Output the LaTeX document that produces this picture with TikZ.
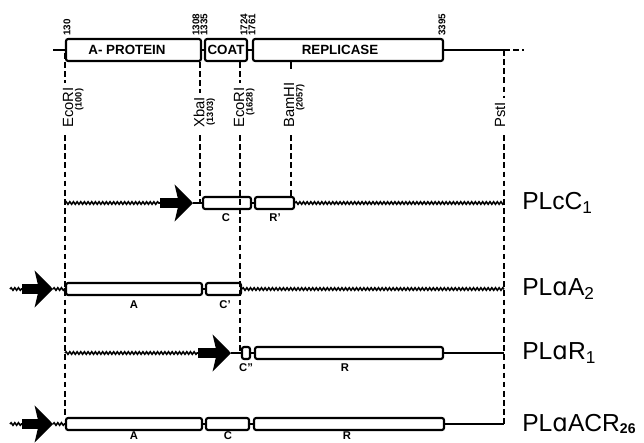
\documentclass[tikz,border=0pt]{standalone}
\usepackage{fontspec}
\setmainfont{Liberation Sans}
\newfontfamily\ipafont{DejaVu Sans}
\usepackage{tikz}
\usetikzlibrary{positioning,arrows.meta,fit,decorations.pathmorphing}

% gene box: name, left x, right x, centre y, half height
\newcommand{\genebox}[5]{\node[gb, fit={(#2,#4-#5) (#3,#4+#5)}] (#1) {};}

\begin{document}
\begin{tikzpicture}[x=0.025cm, y=-0.025cm,
  gb/.style={draw, line width=1.5pt, rounded corners=1.5pt, inner sep=0pt},
  ln/.style={line width=1.1pt},
  wv/.style={line width=1.1pt, decorate, decoration={snake, amplitude=0.9pt, segment length=2.6pt}},
  site/.style={line width=0.9pt, dash pattern=on 4pt off 2.5pt},
  fat/.style={line width=7pt, -{Stealth[length=13pt, width=26pt, inset=3pt]}},
  vlab/.style={rotate=90, anchor=west, inner sep=0pt, font=\fontsize{10.5}{11}\selectfont},
  vnum/.style={rotate=90, anchor=north east, inner sep=1pt, font=\bfseries\fontsize{6.5}{7}\selectfont},
  ntlab/.style={rotate=90, anchor=west, inner sep=0pt, font=\bfseries\fontsize{7}{7}\selectfont},
  gname/.style={font=\bfseries\fontsize{9.5}{10}\selectfont, inner sep=0pt},
  seg/.style={font=\bfseries\fontsize{8}{8}\selectfont, inner sep=0pt},
  pl/.style={anchor=west, inner sep=0pt, font=\fontsize{17.5}{18}\selectfont}]
  \useasboundingbox (0,0) rectangle (644,442);

  % genetic map
  \coordinate (m0) at (53,50);
  \coordinate (pstt) at (504,50);
  \coordinate (pstx) at (524,50);
  \genebox{ap}{66}{201}{50}{11}
  \genebox{cp}{205}{247}{50}{11}
  \genebox{rep}{253}{443}{50}{11}
  \node[gname] (apl) at (127,50) {A- PROTEIN};
  \node[gname] (cpl) at (226,50) {COAT};
  \node[gname] (repl) at (340,50) {REPLICASE};
  \draw[ln] (m0) -- (ap.west); \draw[ln] (ap.east) -- (cp.west); \draw[ln] (cp.east) -- (rep.west); \draw[ln] (rep.east) -- (pstt);
  \draw[site] (pstt) -- (pstx);
  \node[ntlab] (n130) at (67,36) {130};
  \node[ntlab] (n1308) at (196,36) {1308};
  \node[ntlab] (n1335) at (204,36) {1335};
  \node[ntlab] (n1724) at (244,36) {1724};
  \node[ntlab] (n1761) at (252,36) {1761};
  \node[ntlab] (n3395) at (442,36) {3395};

  % restriction sites
  \coordinate (eco1t) at (65,53);
  \coordinate (xbat) at (200,62);
  \coordinate (eco2t) at (240,62);
  \coordinate (bamt) at (291,62);
  \node[vlab] (eco1) at (68,128) {EcoRI};
  \node[vnum] (eco1n) at (eco1.south east) {(100)};
  \node[vlab] (xba) at (199,128) {XbaI};
  \node[vnum] (xban) at (xba.south east) {(1303)};
  \node[vlab] (eco2) at (239,128) {EcoRI};
  \node[vnum] (eco2n) at (eco2.south east) {(1628)};
  \node[vlab] (bam) at (289,128) {BamHI};
  \node[vnum] (bamn) at (bam.south east) {(2057)};
  \node[vlab] (pst) at (500,128) {PstI};

  % PLcC1
  \coordinate (r1s) at (65,203); \coordinate (r1a) at (160,203); \coordinate (r1b) at (193,203); \coordinate (r1e) at (504,203);
  \genebox{c1}{203}{251}{203}{6}
  \genebox{rp1}{255}{294}{203}{6}
  \draw[wv] (r1s) -- (r1a); \draw[fat] (r1a) -- (r1b); \draw[ln] (r1b) -- (c1.west); \draw[ln] (c1.east) -- (rp1.west); \draw[wv] (rp1.east) -- (r1e);
  \node[seg] (c1l) at (226,218) {C};
  \node[seg] (rp1l) at (275,218) {R'};
  \node[pl] (pl1) at (522,203) {PLcC\textsubscript{1}};

  % PLaA2
  \coordinate (r2s) at (10,289); \coordinate (r2a) at (22,289); \coordinate (r2b) at (53,289); \coordinate (r2e) at (504,289);
  \genebox{a2}{66}{202}{289}{6}
  \genebox{cq2}{206}{241}{289}{6}
  \draw[wv] (r2s) -- (r2a); \draw[fat] (r2a) -- (r2b); \draw[wv] (r2b) -- (a2.west); \draw[ln] (a2.east) -- (cq2.west); \draw[wv] (cq2.east) -- (r2e);
  \node[seg] (a2l) at (134,305) {A};
  \node[seg] (cq2l) at (225,305) {C'};
  \node[pl] (pl2) at (522,289) {PL{\ipafont ɑ}A\textsubscript{2}};

  % PLaR1
  \coordinate (r3s) at (65,353); \coordinate (r3a) at (198,353); \coordinate (r3b) at (231,353); \coordinate (r3e) at (504,353);
  \genebox{cc3}{242}{250}{353}{6}
  \genebox{r3}{255}{443}{353}{6}
  \draw[wv] (r3s) -- (r3a); \draw[fat] (r3a) -- (r3b); \draw[ln] (r3b) -- (cc3.west); \draw[ln] (cc3.east) -- (r3.west); \draw[ln] (r3.east) -- (r3e);
  \node[seg] (cc3l) at (246,368) {C''};
  \node[seg] (r3l) at (345,368) {R};
  \node[pl] (pl3) at (522,353) {PL{\ipafont ɑ}R\textsubscript{1}};

  % PLaACR26
  \coordinate (r4s) at (10,424); \coordinate (r4a) at (22,424); \coordinate (r4b) at (53,424); \coordinate (r4e) at (504,424);
  \genebox{a4}{66}{202}{424}{6}
  \genebox{c4}{206}{249}{424}{6}
  \genebox{r4}{254}{444}{424}{6}
  \draw[wv] (r4s) -- (r4a); \draw[fat] (r4a) -- (r4b); \draw[wv] (r4b) -- (a4.west); \draw[ln] (a4.east) -- (c4.west); \draw[ln] (c4.east) -- (r4.west); \draw[ln] (r4.east) -- (r4e);
  \node[seg] (a4l) at (134,436) {A};
  \node[seg] (c4l) at (228,436) {C};
  \node[seg] (r4l) at (347,436) {R};
  \node[pl] (pl4) at (522,424) {PL{\ipafont ɑ}ACR\raisebox{-1.5pt}{\fontsize{10}{10}\selectfont\bfseries 26}};

  % site lines
  \draw[site, shorten >=3pt] (eco1t) -- (eco1t |- eco1.east); \draw[site, shorten <=5pt] (eco1t |- eco1.west) -- (eco1t |- a4.north);
  \draw[site, shorten >=3pt] (xbat) -- (xbat |- xba.east); \draw[site, shorten <=5pt] (xbat |- xba.west) -- (xbat |- c1.west);
  \draw[site, shorten >=3pt] (eco2t) -- (eco2t |- eco2.east); \draw[site, shorten <=5pt] (eco2t |- eco2.west) -- (eco2t |- cc3.west);
  \draw[ln] (bamt) -- ++(0,7); \draw[site, shorten <=5pt] (bamt |- bam.west) -- (bamt |- rp1.north);
  \draw[site, shorten >=3pt] (pstt) -- (pstt |- pst.east); \draw[site, shorten <=5pt] (pstt |- pst.west) -- (r4e);
\end{tikzpicture}
\end{document}
